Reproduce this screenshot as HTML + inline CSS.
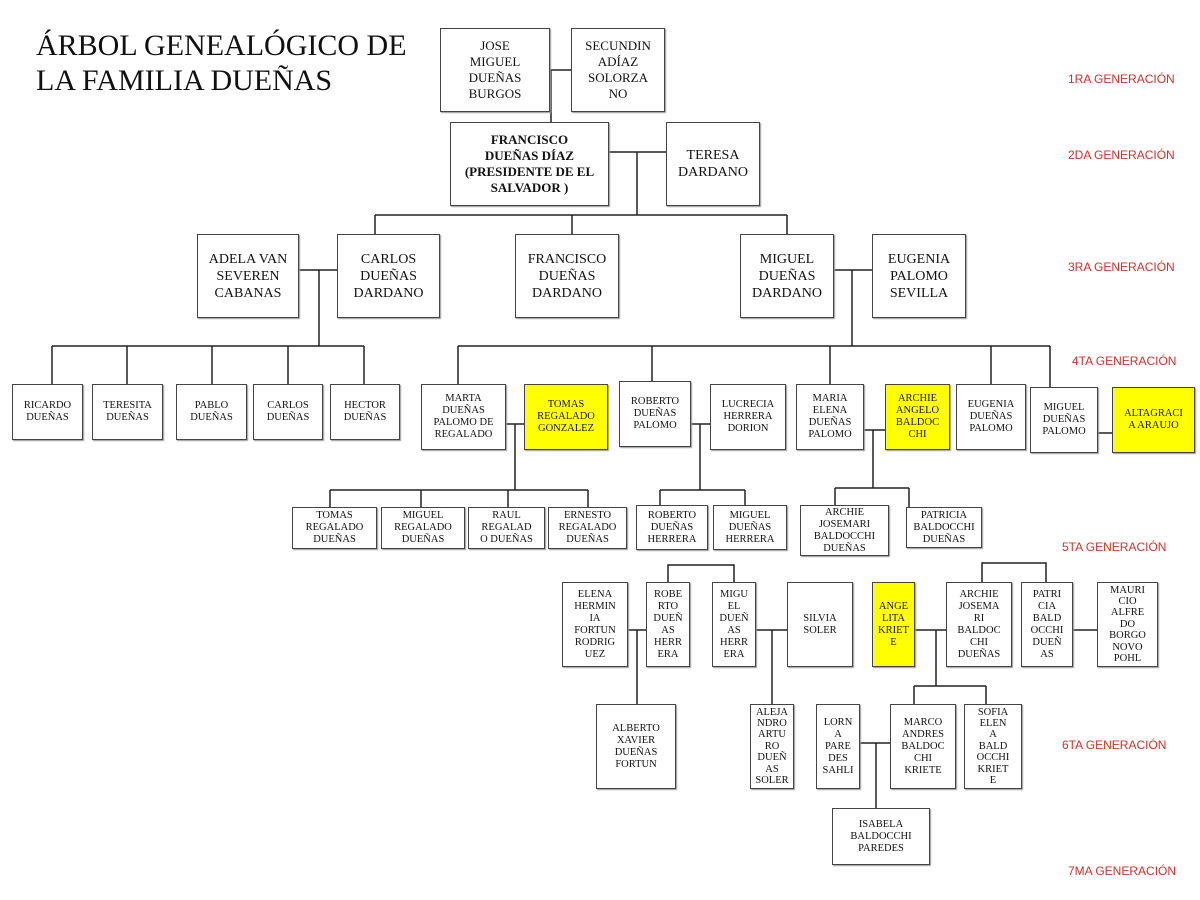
<!DOCTYPE html>
<html><head><meta charset="utf-8"><style>
body{margin:0;width:1200px;height:900px;background:#fff;position:relative;overflow:hidden;font-family:"Liberation Serif",serif;}
.b{position:absolute;box-sizing:border-box;border:1px solid #444;background:#fff;display:flex;align-items:center;justify-content:center;text-align:center;font-size:10.5px;line-height:12px;color:#111;box-shadow:1px 1px 1px #999;}
.t{line-height:11.4px;}
.y{background:#ffff00;}
.m{font-size:13px;line-height:16px;}
.l{font-size:14px;line-height:17px;}
.g{position:absolute;font-family:"Liberation Sans",sans-serif;font-size:12px;color:#d0312d;}
svg{position:absolute;left:0;top:0;}
</style></head><body>
<svg width="1200" height="900"><g stroke="#222" stroke-width="1.5" fill="none">
<path d="M550 70H571M551 70V122"/>
<path d="M609 152H666M637 152V215M375 215H787M375 215V234M572 215V234M787 215V234"/>
<path d="M299 270H337M319 270V346M52 346H364M52 346V384M127 346V384M212 346V384M288 346V384M364 346V384"/>
<path d="M834 270H872M852 270V346M458 346H1050M458 346V384M652 346V381M830 346V384M991 346V384M1050 346V387"/>
<path d="M506 424H524M515 424V490M330 490H588M330 490V507M421 490V507M508 490V507M588 490V507"/>
<path d="M691 424H710M700 424V490M660 490H745M660 490V505M745 490V505"/>
<path d="M864 430H885M873 430V488M835 488H909M835 488V505M909 488V507"/>
<path d="M1098 433H1112"/>
<path d="M668 582V565H734V582M628 630H646M637 630V704M756 630H787M772 630V704"/>
<path d="M982 582V563H1046V582M915 630H946M936 630V686M914 686H986M914 686V704M986 686V704M1073 630H1097"/>
<path d="M860 743H890M876 743V808"/>
</g></svg>
<div style="position:absolute;left:36px;top:28px;font-size:30px;line-height:35px;color:#111">ÁRBOL GENEALÓGICO DE<br>LA FAMILIA DUEÑAS</div>
<div class="g" style="left:1068px;top:72px">1RA GENERACIÓN</div>
<div class="g" style="left:1068px;top:148px">2DA GENERACIÓN</div>
<div class="g" style="left:1068px;top:260px">3RA GENERACIÓN</div>
<div class="g" style="left:1072px;top:354px">4TA GENERACIÓN</div>
<div class="g" style="left:1062px;top:540px">5TA GENERACIÓN</div>
<div class="g" style="left:1062px;top:738px">6TA GENERACIÓN</div>
<div class="g" style="left:1068px;top:864px">7MA GENERACIÓN</div>

<div class="b m" style="left:440px;top:28px;width:110px;height:84px">JOSE<br>MIGUEL<br>DUEÑAS<br>BURGOS</div>
<div class="b m" style="left:571px;top:28px;width:94px;height:84px">SECUNDIN<br>ADÍAZ<br>SOLORZA<br>NO</div>
<div class="b m" style="left:450px;top:122px;width:159px;height:84px;font-weight:bold">FRANCISCO<br>DUEÑAS DÍAZ<br>(PRESIDENTE DE EL<br>SALVADOR )</div>
<div class="b l" style="left:666px;top:122px;width:94px;height:84px">TERESA<br>DARDANO</div>

<div class="b l" style="left:197px;top:234px;width:102px;height:84px">ADELA VAN<br>SEVEREN<br>CABANAS</div>
<div class="b l" style="left:337px;top:234px;width:103px;height:84px">CARLOS<br>DUEÑAS<br>DARDANO</div>
<div class="b l" style="left:515px;top:234px;width:104px;height:84px">FRANCISCO<br>DUEÑAS<br>DARDANO</div>
<div class="b l" style="left:740px;top:234px;width:94px;height:84px">MIGUEL<br>DUEÑAS<br>DARDANO</div>
<div class="b l" style="left:872px;top:234px;width:94px;height:84px">EUGENIA<br>PALOMO<br>SEVILLA</div>

<div class="b" style="left:12px;top:384px;width:71px;height:56px">RICARDO<br>DUEÑAS</div>
<div class="b" style="left:92px;top:384px;width:71px;height:56px">TERESITA<br>DUEÑAS</div>
<div class="b" style="left:176px;top:384px;width:71px;height:56px">PABLO<br>DUEÑAS</div>
<div class="b" style="left:253px;top:384px;width:70px;height:56px">CARLOS<br>DUEÑAS</div>
<div class="b" style="left:330px;top:384px;width:70px;height:56px">HECTOR<br>DUEÑAS</div>

<div class="b" style="left:421px;top:384px;width:85px;height:66px">MARTA<br>DUEÑAS<br>PALOMO DE<br>REGALADO</div>
<div class="b y" style="left:524px;top:384px;width:84px;height:66px">TOMAS<br>REGALADO<br>GONZALEZ</div>
<div class="b" style="left:619px;top:381px;width:72px;height:66px">ROBERTO<br>DUEÑAS<br>PALOMO</div>
<div class="b" style="left:710px;top:384px;width:76px;height:66px">LUCRECIA<br>HERRERA<br>DORION</div>
<div class="b" style="left:796px;top:384px;width:68px;height:66px">MARIA<br>ELENA<br>DUEÑAS<br>PALOMO</div>
<div class="b y" style="left:885px;top:384px;width:65px;height:66px">ARCHIE<br>ANGELO<br>BALDOC<br>CHI</div>
<div class="b" style="left:956px;top:384px;width:70px;height:66px">EUGENIA<br>DUEÑAS<br>PALOMO</div>
<div class="b" style="left:1030px;top:387px;width:68px;height:66px">MIGUEL<br>DUEÑAS<br>PALOMO</div>
<div class="b y" style="left:1112px;top:387px;width:83px;height:66px">ALTAGRACI<br>A ARAUJO</div>

<div class="b" style="left:292px;top:507px;width:85px;height:42px">TOMAS<br>REGALADO<br>DUEÑAS</div>
<div class="b" style="left:381px;top:507px;width:84px;height:42px">MIGUEL<br>REGALADO<br>DUEÑAS</div>
<div class="b" style="left:468px;top:507px;width:77px;height:42px">RAUL<br>REGALAD<br>O DUEÑAS</div>
<div class="b" style="left:548px;top:507px;width:79px;height:42px">ERNESTO<br>REGALADO<br>DUEÑAS</div>
<div class="b" style="left:636px;top:505px;width:72px;height:45px">ROBERTO<br>DUEÑAS<br>HERRERA</div>
<div class="b" style="left:713px;top:505px;width:74px;height:45px">MIGUEL<br>DUEÑAS<br>HERRERA</div>
<div class="b" style="left:800px;top:505px;width:89px;height:51px">ARCHIE<br>JOSEMARI<br>BALDOCCHI<br>DUEÑAS</div>
<div class="b" style="left:906px;top:507px;width:76px;height:41px">PATRICIA<br>BALDOCCHI<br>DUEÑAS</div>

<div class="b" style="left:562px;top:582px;width:66px;height:85px">ELENA<br>HERMIN<br>IA<br>FORTUN<br>RODRIG<br>UEZ</div>
<div class="b" style="left:646px;top:582px;width:44px;height:85px">ROBE<br>RTO<br>DUEÑ<br>AS<br>HERR<br>ERA</div>
<div class="b" style="left:712px;top:582px;width:44px;height:85px">MIGU<br>EL<br>DUEÑ<br>AS<br>HERR<br>ERA</div>
<div class="b" style="left:787px;top:582px;width:66px;height:85px">SILVIA<br>SOLER</div>
<div class="b y" style="left:872px;top:582px;width:43px;height:85px">ANGE<br>LITA<br>KRIET<br>E</div>
<div class="b" style="left:946px;top:582px;width:66px;height:85px">ARCHIE<br>JOSEMA<br>RI<br>BALDOC<br>CHI<br>DUEÑAS</div>
<div class="b" style="left:1021px;top:582px;width:52px;height:85px">PATRI<br>CIA<br>BALD<br>OCCHI<br>DUEÑ<br>AS</div>
<div class="b t" style="left:1097px;top:582px;width:61px;height:85px">MAURI<br>CIO<br>ALFRE<br>DO<br>BORGO<br>NOVO<br>POHL</div>

<div class="b" style="left:596px;top:704px;width:80px;height:85px">ALBERTO<br>XAVIER<br>DUEÑAS<br>FORTUN</div>
<div class="b t" style="left:750px;top:704px;width:44px;height:85px">ALEJA<br>NDRO<br>ARTU<br>RO<br>DUEÑ<br>AS<br>SOLER</div>
<div class="b" style="left:816px;top:704px;width:44px;height:85px">LORN<br>A<br>PARE<br>DES<br>SAHLI</div>
<div class="b" style="left:890px;top:704px;width:66px;height:85px">MARCO<br>ANDRES<br>BALDOC<br>CHI<br>KRIETE</div>
<div class="b t" style="left:964px;top:704px;width:58px;height:85px">SOFIA<br>ELEN<br>A<br>BALD<br>OCCHI<br>KRIET<br>E</div>
<div class="b" style="left:832px;top:808px;width:98px;height:57px">ISABELA<br>BALDOCCHI<br>PAREDES</div>
</body></html>
